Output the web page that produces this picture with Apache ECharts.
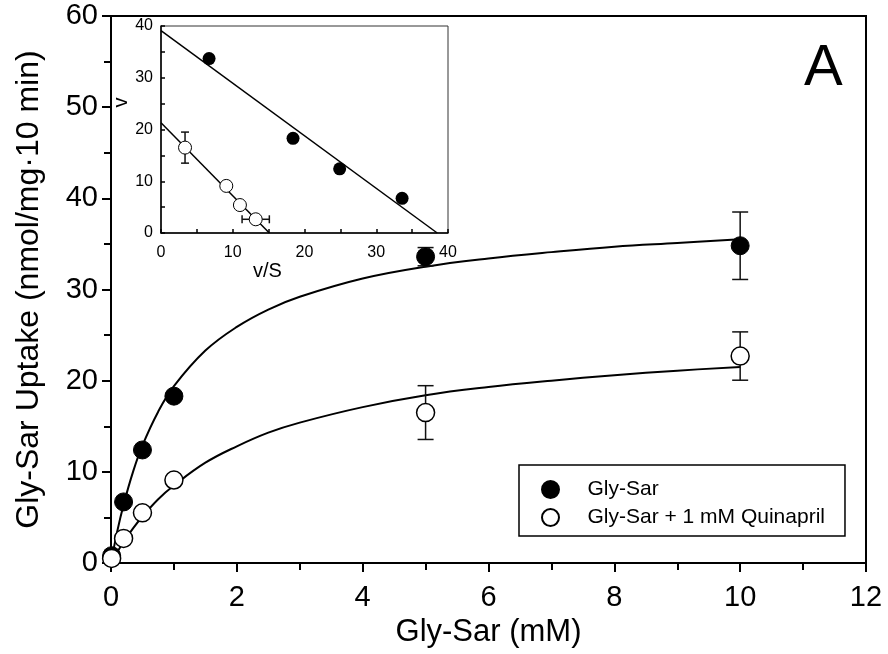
<!DOCTYPE html>
<html lang="en">

<head>
    <meta charset="UTF-8">
    <title>Gly-Sar uptake</title>
    <script src="https://cdn.jsdelivr.net/npm/echarts/dist/echarts.min.js"></script>
    <style>
        html, body {
            margin: 0;
            height: 100%;
            background: #fff;
        }

        #chart {
            width: 888px;
            height: 654px;
        }
    </style>
</head>

<body>
    <div id="chart"></div>
    <script>
        // main panel: Gly-Sar concentration (mM) vs uptake
        var conc = [0.01, 0.2, 0.5, 1, 5, 10];
        var uptake = [0.8, 6.7, 12.4, 18.3, 33.6, 34.8];
        var uptakeErr = [0, 0, 0, 0, 1.0, 3.7];
        var uptakeQ = [0.5, 2.7, 5.5, 9.1, 16.5, 22.7];
        var uptakeQErr = [0, 0, 0, 0, 2.95, 2.65];

        // fitted curves
        var fitConc = [0, 0.1, 0.2, 0.35, 0.5, 0.75, 1, 1.5, 2, 2.5, 3, 4, 5, 6, 7, 8, 9, 10];
        var fitGly = [0, 3.5, 6.4, 10.0, 12.9, 16.6, 19.4, 23.3, 25.9, 27.8, 29.2, 31.2, 32.5, 33.4, 34.1, 34.7, 35.1, 35.5];
        var fitQ = [0, 1.2, 2.3, 3.8, 5.1, 7.0, 8.5, 11.0, 12.8, 14.3, 15.4, 17.1, 18.4, 19.3, 20.0, 20.6, 21.1, 21.5];

        // inset: Eadie-Hofstee (v vs v/S)
        var vsGly = [6.7, 18.4, 24.9, 33.6];
        var vGly = [33.7, 18.3, 12.4, 6.7];
        var vsQ = [3.35, 9.1, 11.0, 13.2];
        var vQ = [16.5, 9.1, 5.4, 2.65];
        var vQErr = [3.0, 0, 0, 0];
        var vsQErr = [0, 0, 0, 1.9];
        var lineGlyX = [0, 38.5];
        var lineGlyY = [39.1, 0];
        var lineQX = [0, 15.1];
        var lineQY = [21.3, 0];

        var FONT = 'Liberation Sans, Arial, sans-serif';

        function pairs(xs, ys) {
            return xs.map(function (x, i) { return [x, ys[i]]; });
        }

        function errData(xs, ys, ex, ey) {
            return xs.map(function (x, i) { return [x, ys[i], ex ? ex[i] : 0, ey ? ey[i] : 0]; });
        }

        function makeErr(cap) {
            return function (params, api) {
                var x = api.value(0), y = api.value(1), ex = api.value(2), ey = api.value(3);
                var st = { stroke: '#111', lineWidth: 1.5 };
                var kids = [];
                if (ey > 0) {
                    var t = api.coord([x, y + ey]), b = api.coord([x, y - ey]);
                    kids.push({ type: 'line', shape: { x1: t[0], y1: t[1], x2: b[0], y2: b[1] }, style: st });
                    kids.push({ type: 'line', shape: { x1: t[0] - cap, y1: t[1], x2: t[0] + cap, y2: t[1] }, style: st });
                    kids.push({ type: 'line', shape: { x1: b[0] - cap, y1: b[1], x2: b[0] + cap, y2: b[1] }, style: st });
                }
                if (ex > 0) {
                    var l = api.coord([x - ex, y]), r = api.coord([x + ex, y]);
                    kids.push({ type: 'line', shape: { x1: l[0], y1: l[1], x2: r[0], y2: r[1] }, style: st });
                    kids.push({ type: 'line', shape: { x1: l[0], y1: l[1] - cap, x2: l[0], y2: l[1] + cap }, style: st });
                    kids.push({ type: 'line', shape: { x1: r[0], y1: r[1] - cap, x2: r[0], y2: r[1] + cap }, style: st });
                }
                return { type: 'group', children: kids };
            };
        }

        var chart = echarts.init(document.getElementById('chart'));
        chart.setOption({
            animation: false,
            backgroundColor: '#fff',
            title: {
                text: 'A',
                left: 799,
                top: 35,
                textStyle: { fontFamily: FONT, fontSize: 58, fontWeight: 'normal', color: '#000' }
            },
            legend: {
                data: ['Gly-Sar', 'Gly-Sar + 1 mM Quinapril'],
                orient: 'vertical',
                left: 519,
                top: 465,
                padding: [14, 20, 8, 22],
                itemWidth: 64,
                itemHeight: 17,
                itemGap: 7,
                icon: 'circle',
                borderColor: '#000',
                borderWidth: 1.5,
                textStyle: { fontFamily: FONT, fontSize: 21, color: '#000' }
            },
            grid: [
                { left: 111, top: 16, right: 22, bottom: 91, show: true, borderColor: '#000', borderWidth: 2 },
                { left: 161, top: 26, width: 287, height: 207, show: true, borderColor: '#333', borderWidth: 1 }
            ],
            xAxis: [
                {
                    gridIndex: 0, type: 'value', min: 0, max: 12, interval: 2,
                    name: 'Gly-Sar (mM)', nameLocation: 'middle', nameGap: 50,
                    nameTextStyle: { fontFamily: FONT, fontSize: 31, color: '#000' },
                    axisLine: { lineStyle: { color: '#000', width: 2 } },
                    axisTick: { inside: false, length: 9, lineStyle: { color: '#000', width: 2 } },
                    minorTick: { show: true, splitNumber: 2, length: 7, lineStyle: { color: '#000', width: 2 } },
                    axisLabel: { margin: 20, fontFamily: FONT, fontSize: 29, color: '#000' },
                    splitLine: { show: false }
                },
                {
                    gridIndex: 1, type: 'value', min: 0, max: 40, interval: 10,
                    name: 'v/S', nameLocation: 'middle', nameGap: 18,
                    nameTextStyle: { fontFamily: FONT, fontSize: 20, color: '#000', padding: [0, 74, 0, 0] },
                    axisLine: { lineStyle: { color: '#000', width: 1.5 } },
                    axisTick: { inside: true, length: 4, lineStyle: { color: '#000', width: 1.5 } },
                    minorTick: { show: true, splitNumber: 2, length: 4, lineStyle: { color: '#000', width: 1.5 } },
                    axisLabel: { margin: 12, fontFamily: FONT, fontSize: 16, color: '#000' },
                    splitLine: { show: false }
                }
            ],
            yAxis: [
                {
                    gridIndex: 0, type: 'value', min: 0, max: 60, interval: 10,
                    name: 'Gly-Sar Uptake (nmol/mg\u00b710 min)', nameLocation: 'middle', nameGap: 66,
                    nameTextStyle: { fontFamily: FONT, fontSize: 32, color: '#000' },
                    axisLine: { lineStyle: { color: '#000', width: 2 } },
                    axisTick: { inside: false, length: 9, lineStyle: { color: '#000', width: 2 } },
                    minorTick: { show: true, splitNumber: 2, length: 7, lineStyle: { color: '#000', width: 2 } },
                    axisLabel: { margin: 13, fontFamily: FONT, fontSize: 29, color: '#000' },
                    splitLine: { show: false }
                },
                {
                    gridIndex: 1, type: 'value', min: 0, max: 40, interval: 10,
                    name: 'v', nameLocation: 'middle', nameGap: 24,
                    nameTextStyle: { fontFamily: FONT, fontSize: 20, color: '#000', padding: [0, 0, 0, 54] },
                    axisLine: { lineStyle: { color: '#000', width: 1.5 } },
                    axisTick: { inside: true, length: 4, lineStyle: { color: '#000', width: 1.5 } },
                    minorTick: { show: true, splitNumber: 2, length: 4, lineStyle: { color: '#000', width: 1.5 } },
                    axisLabel: { margin: 8, fontFamily: FONT, fontSize: 16, color: '#000' },
                    splitLine: { show: false }
                }
            ],
            series: [
                // main panel
                {
                    name: 'fit Gly-Sar', type: 'line', xAxisIndex: 0, yAxisIndex: 0,
                    data: pairs(fitConc, fitGly), smooth: 0.4, showSymbol: false, silent: true,
                    lineStyle: { color: '#000', width: 2 }, z: 2
                },
                {
                    name: 'fit Quinapril', type: 'line', xAxisIndex: 0, yAxisIndex: 0,
                    data: pairs(fitConc, fitQ), smooth: 0.4, showSymbol: false, silent: true,
                    lineStyle: { color: '#000', width: 2 }, z: 2
                },
                {
                    name: 'err main', type: 'custom', xAxisIndex: 0, yAxisIndex: 0,
                    renderItem: makeErr(8), encode: { x: 0, y: 1 },
                    data: errData(conc, uptake, null, uptakeErr).concat(errData(conc, uptakeQ, null, uptakeQErr)),
                    z: 3
                },
                {
                    name: 'Gly-Sar', type: 'scatter', xAxisIndex: 0, yAxisIndex: 0,
                    data: pairs(conc, uptake), symbol: 'circle', symbolSize: 18,
                    itemStyle: { color: '#000', borderColor: '#000', borderWidth: 1, opacity: 1 }, z: 4
                },
                {
                    name: 'Gly-Sar + 1 mM Quinapril', type: 'scatter', xAxisIndex: 0, yAxisIndex: 0,
                    data: pairs(conc, uptakeQ), symbol: 'circle', symbolSize: 18,
                    itemStyle: { color: '#fff', borderColor: '#000', borderWidth: 1.5, opacity: 1 }, z: 4
                },
                // inset
                {
                    name: 'inset line Gly-Sar', type: 'line', xAxisIndex: 1, yAxisIndex: 1,
                    data: pairs(lineGlyX, lineGlyY), showSymbol: false, silent: true,
                    lineStyle: { color: '#000', width: 1.5 }, z: 2
                },
                {
                    name: 'inset line Quinapril', type: 'line', xAxisIndex: 1, yAxisIndex: 1,
                    data: pairs(lineQX, lineQY), showSymbol: false, silent: true,
                    lineStyle: { color: '#000', width: 1.5 }, z: 2
                },
                {
                    name: 'err inset', type: 'custom', xAxisIndex: 1, yAxisIndex: 1,
                    renderItem: makeErr(4), encode: { x: 0, y: 1 },
                    data: errData(vsQ, vQ, vsQErr, vQErr), z: 3
                },
                {
                    name: 'inset Gly-Sar', type: 'scatter', xAxisIndex: 1, yAxisIndex: 1,
                    data: pairs(vsGly, vGly), symbol: 'circle', symbolSize: 13,
                    itemStyle: { color: '#000', opacity: 1 }, z: 4
                },
                {
                    name: 'inset Quinapril', type: 'scatter', xAxisIndex: 1, yAxisIndex: 1,
                    data: pairs(vsQ, vQ), symbol: 'circle', symbolSize: 13,
                    itemStyle: { color: '#fff', borderColor: '#000', borderWidth: 1, opacity: 1 }, z: 4
                }
            ]
        });
    </script>
</body>

</html>
